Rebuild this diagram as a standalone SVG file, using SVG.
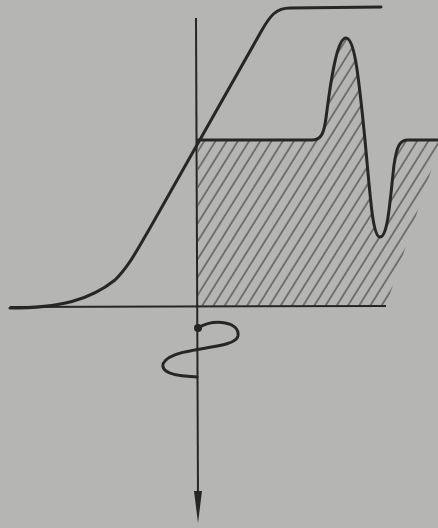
<svg xmlns="http://www.w3.org/2000/svg" width="438" height="528" viewBox="0 0 438 528">
<style>
.thick{fill:none;stroke:#262626;stroke-width:3;stroke-linecap:round;stroke-linejoin:round}
.axis{fill:none;stroke:#262626;stroke-width:2}
</style>
<defs>
<pattern id="hatch" patternUnits="userSpaceOnUse" width="9.5" height="20" patternTransform="rotate(32)">
<line x1="1" y1="0" x2="1" y2="20" stroke="#3a3a3a" stroke-width="1.1"/>
</pattern>
<clipPath id="hclip">
<path d="M198,140 L312,140 C322,140 324,132 326,118 C332,70 338,38 346,38 C354,38 358,70 364,130 C370,190 372,237 380,237 C388,237 390,200 394,165 C397,145 400,140 408,140 L438,140 L438,150 L386,306 L198,306 Z"/>
</clipPath>
</defs>
<rect width="438" height="528" fill="#b5b5b3"/>
<g id="hatching">
<rect x="190" y="30" width="250" height="280" fill="url(#hatch)" clip-path="url(#hclip)"/>
</g>
<g id="axes">
<line class="axis" x1="10" y1="307" x2="386" y2="306"/>
<line class="axis" x1="196" y1="18" x2="198" y2="495"/>
<polygon points="194,491 202,491 198,523" fill="#262626"/>
</g>
<g id="s-curve">
<path class="thick" d="M10,308 C60,308 90,300 115,280 C130,265 140,245 150,228 L262,30 C270,16 276,8 290,8 L381,7"/>
</g>
<g id="profile">
<path class="thick" d="M198,140 L312,140 C322,140 324,132 326,118 C332,70 338,38 346,38 C354,38 358,70 364,130 C370,190 372,237 380,237 C388,237 390,200 394,165 C397,145 400,140 408,140 L438,140"/>
</g>
<g id="helix">
<circle cx="198" cy="328" r="4" fill="#262626"/>
<path class="thick" d="M198,328 C215,318 240,322 238,336 C236,346 205,347 190,351 C165,355 158,365 166,371 C174,377 190,376 197,377"/>
</g>
</svg>
